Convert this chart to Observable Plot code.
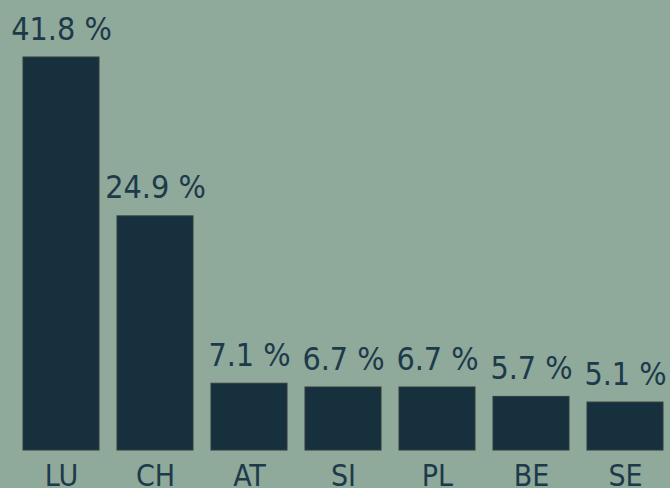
<!DOCTYPE html>
<html><head><meta charset="utf-8">
<script src="https://cdn.jsdelivr.net/npm/d3@7"></script>
<script src="https://cdn.jsdelivr.net/npm/@observablehq/plot@0.6"></script>
<style>
html,body{margin:0;padding:0;background:#8fa99b;}
#chart{width:670px;height:488px;overflow:hidden;}
</style></head>
<body><div id="chart"></div>
<script>
const countries = ["LU","CH","AT","SI","PL","BE","SE"];
const shares = [41.8, 24.9, 7.1, 6.7, 6.7, 5.7, 5.1];
const data = countries.map((c,i)=>({country:c, value:shares[i]}));
const font = "'DejaVu Sans Condensed', 'DejaVu Sans', sans-serif";
const plot = Plot.plot({
  width: 670, height: 488,
  marginLeft: 23, marginRight: 6, marginTop: 57, marginBottom: 38,
  style: {background: "#8fa99b", fontFamily: font, color: "#1d3a4a"},
  x: {domain: countries, paddingInner: 0.19, paddingOuter: 0, label: null},
  y: {domain: [0, 41.8], axis: null},
  marks: [
    Plot.axisX({tickSize: 0, tickPadding: 14, fontSize: 30, fill: "#1d3a4a", label: null}),
    Plot.barY(data, {x: "country", y: "value", fill: "#17303d", stroke: "#333b3d", strokeWidth: 1}),
    Plot.text(data, {x: "country", y: "value", text: d => d.value.toFixed(1) + " %", dy: -18, lineAnchor: "bottom", fontSize: 32, fill: "#1d3a4a"})
  ]
});
document.getElementById("chart").appendChild(plot);
</script></body></html>
